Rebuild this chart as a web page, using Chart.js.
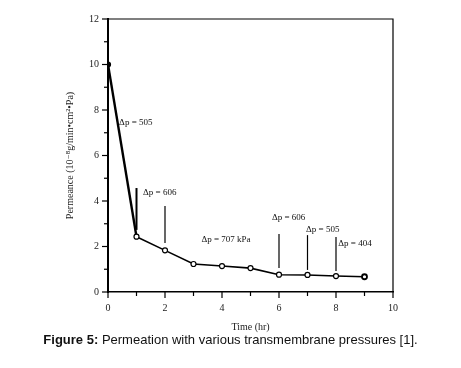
<!DOCTYPE html>
<html>
<head>
<meta charset="utf-8">
<script src="https://cdn.jsdelivr.net/npm/chart.js@4/dist/chart.umd.min.js"></script>
<style>
  html, body { margin: 0; padding: 0; background: #fff; }
  #wrap { position: relative; width: 461px; height: 368px; }
  #caption {
    position: absolute; left: 0; width: 461px; top: 332px; text-align: center;
    font-family: "Liberation Sans", Arial, sans-serif; font-size: 13px; color: #111;
  }
</style>
</head>
<body>
<div id="wrap">
  <canvas id="myChart" width="461" height="368"></canvas>
  <div id="caption"><b>Figure 5:</b> Permeation with various transmembrane pressures [1].</div>
</div>
<script>
const timeHr = [0, 1, 2, 3, 4, 5, 6, 7, 8, 9];
const permeance = [10, 2.43, 1.83, 1.23, 1.14, 1.05, 0.76, 0.75, 0.70, 0.67];

// vertical marker lines (time, top, bottom)
const markerX = [1, 2, 6, 7, 8];
const markerTop = [4.57, 3.78, 2.55, 2.5, 2.42];
const markerBottom = [2.73, 2.15, 1.05, 0.97, 0.92];

// pressure labels
const labelText = ["Δp = 505", "Δp = 606", "Δp = 707 kPa", "Δp = 606", "Δp = 505", "Δp = 404"];
const labelX = [0.39, 1.23, 3.28, 5.75, 6.95, 8.08];
const labelY = [7.43, 4.35, 2.29, 3.25, 2.73, 2.11];

const serif = '"Liberation Serif", "DejaVu Serif", serif';

const extras = {
  id: 'extras',
  afterDraw(chart) {
    const c = chart.ctx;
    const xs = chart.scales.x, ys = chart.scales.y;
    const a = chart.chartArea;
    c.save();
    c.strokeStyle = '#000';
    // frame top/right
    c.lineWidth = 1.2;
    c.beginPath();
    c.moveTo(a.left, a.top); c.lineTo(a.right, a.top); c.lineTo(a.right, a.bottom);
    c.stroke();
    // ticks
    c.lineWidth = 1.2;
    for (let v = 0; v <= 10; v++) {
      const px = xs.getPixelForValue(v);
      const len = v % 2 === 0 ? 6 : 4;
      c.beginPath(); c.moveTo(px, a.bottom); c.lineTo(px, a.bottom + len); c.stroke();
    }
    for (let v = 0; v <= 12; v++) {
      const py = ys.getPixelForValue(v);
      const len = v % 2 === 0 ? 6 : 4;
      c.beginPath(); c.moveTo(a.left, py); c.lineTo(a.left - len, py); c.stroke();
    }
    // marker lines
    markerX.forEach((m, i) => {
      const px = xs.getPixelForValue(m);
      c.lineWidth = i === 0 ? 2 : 1.2;
      c.beginPath();
      c.moveTo(px, ys.getPixelForValue(markerTop[i]));
      c.lineTo(px, ys.getPixelForValue(markerBottom[i]));
      c.stroke();
    });
    // labels
    c.fillStyle = '#111';
    c.font = '9px ' + serif;
    c.textBaseline = 'middle';
    labelText.forEach((t, i) => {
      c.fillText(t, xs.getPixelForValue(labelX[i]), ys.getPixelForValue(labelY[i]));
    });
    c.restore();
  }
};

const config = {
  type: 'line',
  data: {
    datasets: [{
      data: timeHr.map((t, i) => ({ x: t, y: permeance[i] })),
      borderColor: '#000',
      borderWidth: 1.6,
      segment: { borderWidth: ctx => ctx.p0DataIndex === 0 ? 2.4 : 1.6 },
      pointRadius: 2.5,
      pointBorderWidth: ctx => ctx.dataIndex === 9 ? 1.8 : 1.2,
      pointBorderColor: '#000',
      pointBackgroundColor: ctx => ctx.dataIndex === 0 ? '#000' : '#fff',
      tension: 0
    }]
  },
  options: {
    responsive: false,
    animation: false,
    layout: { padding: { top: 19, right: 68, left: 0, bottom: 35 } },
    plugins: { legend: { display: false }, tooltip: { enabled: false } },
    scales: {
      x: {
        type: 'linear', min: 0, max: 10,
        afterFit: s => { s.height = 41; },
        grid: { drawOnChartArea: false, tickLength: 6, tickColor: 'rgba(0,0,0,0)' },
        border: { color: '#000', width: 1.5 },
        ticks: { stepSize: 2, padding: 4, color: '#222', font: { family: serif, size: 10 } },
        title: { display: true, text: 'Time (hr)', color: '#222', font: { family: serif, size: 10 }, padding: { top: 0, bottom: 0 } }
      },
      y: {
        min: 0, max: 12,
        afterFit: s => { s.width = 108; },
        grid: { drawOnChartArea: false, tickLength: 6, tickColor: 'rgba(0,0,0,0)' },
        border: { color: '#000', width: 2 },
        ticks: { stepSize: 2, padding: 3, color: '#222', font: { family: serif, size: 10 } },
        title: { display: true, text: 'Permeance (10⁻⁸g/min•cm²•Pa)', color: '#222', font: { family: serif, size: 10 }, padding: { top: 64, bottom: 0 } }
      }
    }
  },
  plugins: [extras]
};

new Chart(document.getElementById('myChart'), config);
</script>
</body>
</html>
